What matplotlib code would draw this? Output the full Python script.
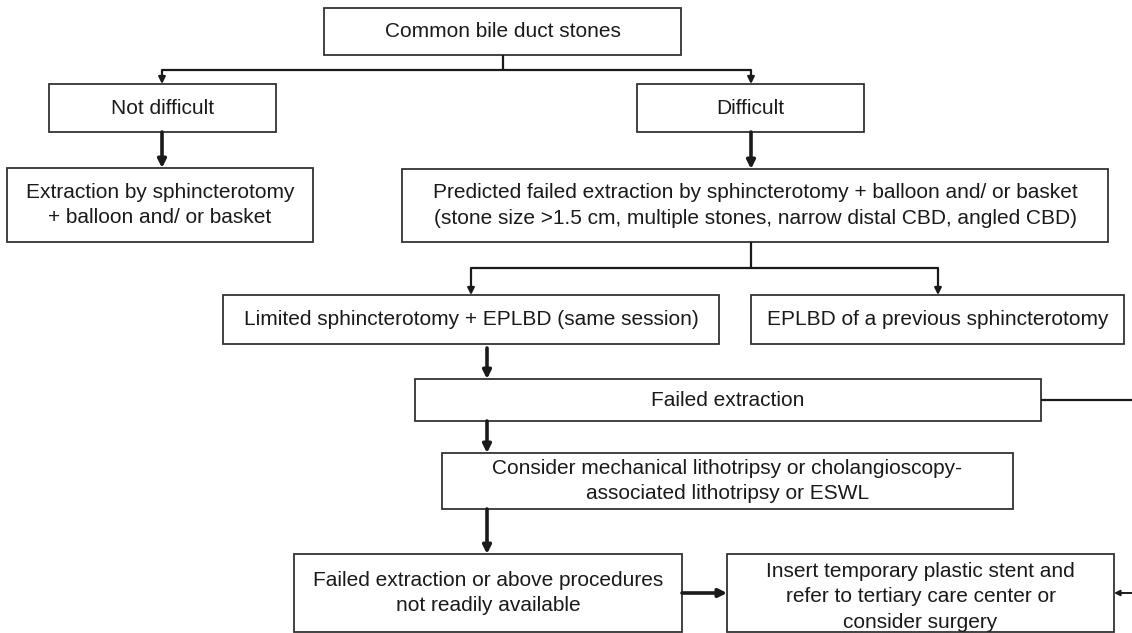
import matplotlib
matplotlib.use("Agg")
import matplotlib.pyplot as plt
from matplotlib.patches import Rectangle

plt.rcParams['font.family'] = ['Liberation Sans', 'DejaVu Sans']

# box labels
start_label = "Common bile duct stones"
easy_label = "Not difficult"
hard_label = "Difficult"
easy_tx_label = "Extraction by sphincterotomy\n+ balloon and/ or basket"
hard_tx_label = ("Predicted failed extraction by sphincterotomy + balloon and/ or basket\n"
                 "(stone size >1.5 cm, multiple stones, narrow distal CBD, angled CBD)")
limited_label = "Limited sphincterotomy + EPLBD (same session)"
eplbd_label = "EPLBD of a previous sphincterotomy"
failed_label = "Failed extraction"
consider_label = "Consider mechanical lithotripsy or cholangioscopy-\nassociated lithotripsy or ESWL"
failed2_label = "Failed extraction or above procedures\nnot readily available"
stent_label = "Insert temporary plastic stent and\nrefer to tertiary care center or\nconsider surgery"

# layout in pixels: x0, y0, x1, y1 (y from top)
boxes = {
    "start": (324, 8, 681, 55),
    "easy": (49, 84, 276, 132),
    "hard": (637, 84, 864, 132),
    "easy_tx": (7, 168, 313, 242),
    "hard_tx": (402, 169, 1108, 242),
    "limited": (223, 295, 719, 344),
    "eplbd": (751, 295, 1124, 344),
    "failed": (415, 379, 1041, 421),
    "consider": (442, 453, 1013, 509),
    "failed2": (294, 554, 682, 632),
    "stent": (727, 554, 1114, 632),
}
labels = {
    "start": start_label, "easy": easy_label, "hard": hard_label,
    "easy_tx": easy_tx_label, "hard_tx": hard_tx_label,
    "limited": limited_label, "eplbd": eplbd_label, "failed": failed_label,
    "consider": consider_label, "failed2": failed2_label, "stent": stent_label,
}

W, H = 1132, 633
fig = plt.figure(figsize=(W / 100, H / 100), dpi=100)
ax = fig.add_axes([0, 0, 1, 1])
ax.set_xlim(0, W)
ax.set_ylim(H, 0)
ax.axis("off")

ink = "#1a1a1a"

for key, (x0, y0, x1, y1) in boxes.items():
    ax.add_patch(Rectangle((x0, y0), x1 - x0, y1 - y0, fill=False,
                           edgecolor="#333333", linewidth=1.3))
    cy = (y0 + y1) / 2
    if key == "stent":
        cy = 597
    ax.text((x0 + x1) / 2, cy, labels[key], ha="center", va="center",
            fontsize=15, color=ink, linespacing=1.45)


def line(xs, ys, lw=1.6):
    ax.plot(xs, ys, color=ink, linewidth=lw, solid_capstyle="butt")


def arrow(x0, y0, x1, y1, lw=1.6, scale=10):
    ax.annotate("", xy=(x1, y1), xytext=(x0, y0),
                arrowprops=dict(arrowstyle="-|>", color=ink, lw=lw,
                                mutation_scale=scale, shrinkA=0, shrinkB=0))


# top split
line([503, 503], [55, 70])
line([162, 751], [70, 70])
arrow(162, 70, 162, 84)
arrow(751, 70, 751, 84)

# thick arrows down
arrow(162, 132, 162, 168, lw=2.6, scale=12)
arrow(751, 132, 751, 169, lw=2.6, scale=12)

# second split
line([751, 751], [242, 268])
line([471, 938], [268, 268])
arrow(471, 268, 471, 295)
arrow(938, 268, 938, 295)

# main chain
arrow(487, 348, 487, 379, lw=2.6, scale=12)
arrow(487, 421, 487, 453, lw=2.6, scale=12)
arrow(487, 509, 487, 554, lw=2.6, scale=12)
arrow(682, 593, 727, 593, lw=2.6, scale=12)

# side route from failed extraction
line([1041, W], [400, 400])
arrow(W, 593, 1114, 593, lw=1.4, scale=8)

fig.savefig("out.png", dpi=100)
